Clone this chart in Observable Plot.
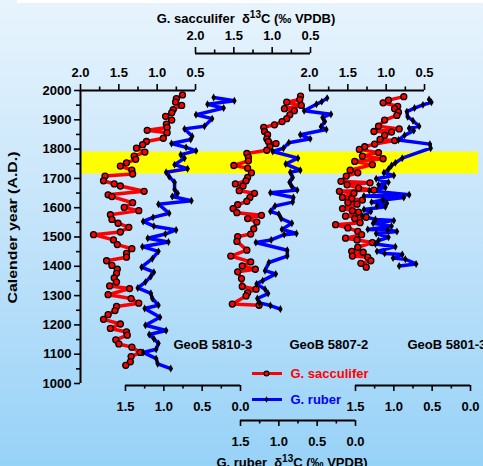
<!DOCTYPE html>
<html><head><meta charset="utf-8">
<script src="https://cdn.jsdelivr.net/npm/d3@7"></script>
<script src="https://cdn.jsdelivr.net/npm/@observablehq/plot@0.6"></script>
<style>
html,body{margin:0;padding:0;}
body{width:483px;height:466px;overflow:hidden;font-family:"Liberation Sans",Arial,sans-serif;}
#wrap{position:relative;width:483px;height:466px;background:linear-gradient(to bottom,#e8f4fd 0%,#c2e3fa 50%,#97d2f7 100%);overflow:hidden;}
#wrap::before{content:"";position:absolute;left:17px;top:0;width:466px;height:3px;background:#fff;}
#wrap svg{position:absolute;left:0;top:0;background:transparent;overflow:visible;}
.ttl{position:absolute;font-weight:bold;font-size:13px;line-height:13px;white-space:nowrap;transform:translate(-50%,-50%);color:#000;z-index:2;}
.ttl sup{font-size:10px;line-height:0;vertical-align:5px;}
</style></head><body>
<div id="wrap">
<div class="ttl" style="left:246px;top:18px">G. sacculifer&nbsp; δ<sup>13</sup>C (‰ VPDB)</div>
<div class="ttl" style="left:292px;top:462px">G. ruber&nbsp; δ<sup>13</sup>C (‰ VPDB)</div>
</div>
<script>
// ---- data: [calendar year A.D., δ13C ‰ VPDB] ----
const sac5810 = [[1985,0.67],[1972,0.75],[1960,0.76],[1949,0.68],[1935,0.79],[1924,0.81],[1912,0.89],[1899,0.81],[1885,0.88],[1874,0.87],[1864,1.13],[1856,0.87],[1837,0.92],[1826,1.14],[1815,1.19],[1803,1.27],[1790,1.16],[1776,1.30],[1765,1.28],[1753,1.40],[1742,1.48],[1728,1.33],[1715,1.32],[1708,1.68],[1692,1.70],[1681,1.56],[1674,1.48],[1656,1.17],[1644,1.64],[1638,1.59],[1617,1.32],[1601,1.43],[1590,1.24],[1576,1.61],[1560,1.59],[1547,1.51],[1533,1.37],[1517,1.48],[1508,1.83],[1490,1.57],[1474,1.52],[1460,1.33],[1444,1.40],[1431,1.40],[1419,1.66],[1403,1.59],[1390,1.52],[1376,1.53],[1360,1.56],[1346,1.53],[1333,1.62],[1324,1.36],[1303,1.64],[1290,1.34],[1274,1.24],[1263,1.53],[1249,1.55],[1235,1.64],[1219,1.70],[1203,1.48],[1188,1.61],[1176,1.40],[1165,1.39],[1149,1.54],[1135,1.50],[1124,1.33],[1106,1.22],[1092,1.34],[1074,1.35],[1062,1.41]];
const rub5810 = [[1976,0.35],[1965,0.08],[1953,0.43],[1940,0.22],[1917,0.58],[1904,0.37],[1878,0.47],[1869,0.73],[1844,0.63],[1833,0.65],[1819,0.90],[1806,0.71],[1794,0.58],[1781,0.78],[1769,0.73],[1747,0.86],[1733,0.69],[1721,0.97],[1706,0.93],[1687,0.86],[1662,0.86],[1649,0.82],[1638,0.89],[1624,0.64],[1612,1.07],[1581,0.93],[1567,1.14],[1553,1.27],[1537,1.13],[1524,0.84],[1510,0.98],[1496,1.21],[1483,0.94],[1467,1.28],[1451,1.07],[1426,1.15],[1397,1.29],[1380,1.13],[1365,1.17],[1346,1.24],[1326,1.34],[1308,1.17],[1290,1.15],[1267,1.07],[1256,1.25],[1226,1.05],[1199,1.24],[1181,0.97],[1167,1.19],[1153,1.13],[1137,1.07],[1117,1.10],[1106,1.27],[1085,1.10],[1067,1.08],[1051,0.91]];
const sac5807 = [[1981,0.63],[1969,0.64],[1960,0.81],[1949,0.62],[1938,0.84],[1931,0.71],[1917,0.77],[1904,0.81],[1894,0.87],[1883,0.97],[1874,1.11],[1860,1.10],[1849,1.06],[1835,1.07],[1826,1.05],[1819,0.95],[1808,1.03],[1796,1.07],[1785,1.33],[1772,1.31],[1760,1.31],[1744,1.50],[1735,1.32],[1719,1.27],[1703,1.32],[1692,1.34],[1681,1.48],[1674,1.38],[1658,1.43],[1649,1.23],[1635,1.29],[1622,1.33],[1610,1.45],[1597,1.51],[1583,1.46],[1574,1.14],[1563,1.32],[1551,1.20],[1528,1.24],[1510,1.28],[1501,1.45],[1485,1.46],[1455,1.33],[1435,1.54],[1415,1.28],[1401,1.39],[1390,1.22],[1381,1.45],[1358,1.40],[1331,1.39],[1322,1.21],[1310,1.32],[1299,1.34],[1271,1.52],[1267,1.17]];
const rub5807 = [[1974,0.37],[1962,0.44],[1953,0.51],[1931,0.67],[1919,0.32],[1908,0.43],[1894,0.40],[1876,0.45],[1867,0.38],[1849,0.72],[1835,0.59],[1822,0.87],[1803,0.94],[1792,1.08],[1769,0.75],[1749,0.91],[1728,0.72],[1721,0.85],[1703,0.82],[1687,0.86],[1672,0.83],[1660,0.76],[1651,1.11],[1635,0.81],[1619,0.82],[1606,1.05],[1587,1.11],[1578,1.00],[1563,0.97],[1547,0.83],[1526,0.96],[1512,0.77],[1508,0.93],[1490,1.10],[1481,1.30],[1455,0.89],[1435,0.89],[1413,1.13],[1385,1.18],[1374,1.04],[1351,1.21],[1340,1.29],[1322,1.18],[1307,1.14],[1290,1.28],[1275,1.25],[1266,1.11],[1254,0.98]];
const sac5801 = [[1979,0.77],[1967,0.97],[1958,1.04],[1946,0.85],[1938,0.89],[1926,0.84],[1915,0.86],[1899,1.02],[1878,1.10],[1869,0.83],[1860,1.16],[1858,0.93],[1847,1.02],[1833,1.08],[1829,0.89],[1817,1.15],[1808,1.28],[1799,1.35],[1788,1.10],[1776,1.31],[1767,1.04],[1758,1.41],[1747,1.18],[1728,1.47],[1719,1.37],[1708,1.52],[1690,1.59],[1685,1.21],[1678,1.51],[1667,1.36],[1660,1.16],[1656,1.61],[1649,1.42],[1635,1.57],[1631,1.45],[1626,1.31],[1617,1.50],[1612,1.38],[1597,1.57],[1590,1.44],[1585,1.36],[1571,1.53],[1567,1.26],[1563,1.41],[1549,1.34],[1542,1.66],[1531,1.50],[1519,1.37],[1508,1.32],[1496,1.53],[1490,1.38],[1481,1.18],[1465,1.37],[1451,1.45],[1448,1.30],[1435,1.44],[1431,1.24],[1419,1.20],[1410,1.33],[1397,1.26]];
const rub5801 = [[1969,0.54],[1960,0.51],[1951,0.62],[1940,0.73],[1928,0.83],[1910,0.82],[1897,0.75],[1878,0.67],[1871,0.80],[1863,0.74],[1847,0.86],[1831,0.94],[1817,0.53],[1803,0.52],[1769,0.89],[1753,0.98],[1744,1.03],[1731,1.07],[1719,1.13],[1710,1.00],[1699,1.23],[1687,1.07],[1678,1.20],[1669,1.11],[1658,1.32],[1644,0.80],[1640,1.39],[1635,0.87],[1626,1.14],[1619,1.29],[1615,1.09],[1606,1.22],[1603,1.11],[1594,1.39],[1587,1.30],[1571,1.41],[1560,1.24],[1556,1.00],[1547,1.27],[1537,1.03],[1526,1.34],[1524,1.08],[1519,0.96],[1512,1.23],[1499,1.07],[1488,1.20],[1476,1.24],[1467,0.98],[1451,1.22],[1444,1.12],[1440,0.89],[1428,1.01],[1424,0.85],[1408,0.71],[1401,0.93]];

const coreNames = ["GeoB 5810-3", "GeoB 5807-2", "GeoB 5801-3"];
const seriesNames = ["G. sacculifer", "G. ruber"];
const yTitle = "Calender year (A.D.)";
const bandYears = [1715, 1790];
const yearTicks = [1000,1100,1200,1300,1400,1500,1600,1700,1800,1900,2000];
const yearMinor = [1050,1150,1250,1350,1450,1550,1650,1750,1850,1950];
const sacTicks = [2.0,1.5,1.0,0.5];
const sacMinor = [1.75,1.25,0.75];
const rubTicks = [1.5,1.0,0.5,0.0];
const rubMinor = [1.25,0.75,0.25];

// ---- layout ----
const W = 483, H = 466, X0 = 80, PX = 76.67, YT = 90, YB = 383;
const ux = px => (px - X0) / PX;                 // pixel column -> x scale unit
const yr = py => 2000 - (py - YT) * 1000 / (YB - YT); // pixel row -> year
const red = "#ff0000", blue = "#0000ff";
const font = {fontSize: 13, fontWeight: "bold", fill: "black"};

const panels = [
  {sac: sac5810, rub: rub5810, sacLeft: 80,  rubRight: 240, sacAxisY: 90, rubAxisY: 385, name: [173, 344]},
  {sac: sac5807, rub: rub5807, sacLeft: 195, rubRight: 355, sacAxisY: 53, rubAxisY: 420, name: [289, 344]},
  {sac: sac5801, rub: rub5801, sacLeft: 309, rubRight: 470, sacAxisY: 90, rubAxisY: 385, name: [407, 344]}
];

const marks = [];
marks.push(Plot.rect([bandYears], {x1: 0, x2: ux(478), y1: d => d[0], y2: d => d[1], fill: "#ffff00"}));

function xAxis(ticks, minor, toU, yLinePx, dir, labelDy) {
  const yl = yr(yLinePx);
  const us = ticks.map(toU);
  return [
    Plot.ruleY([yl], {x1: d3.min(us), x2: d3.max(us), stroke: "black", strokeWidth: 2}),
    Plot.ruleX(ticks, {x: toU, y1: yl, y2: yr(yLinePx + dir * 6), stroke: "black", strokeWidth: 1.6}),
    Plot.ruleX(minor, {x: toU, y1: yl, y2: yr(yLinePx + dir * 3.5), stroke: "black", strokeWidth: 1.6}),
    Plot.text(ticks, {x: toU, y: yl, dy: labelDy, text: d => d.toFixed(1), ...font})
  ];
}

panels.forEach(p => {
  const sx = v => ux(p.sacLeft) + (2.0 - v);
  const rx = v => ux(p.rubRight) - v;
  marks.push(...xAxis(sacTicks, sacMinor, sx, p.sacAxisY, -1, -18));
  marks.push(...xAxis(rubTicks, rubMinor, rx, p.rubAxisY, 1, 21));
  p.sx = sx; p.rx = rx;
});
panels.forEach(p => {
  marks.push(Plot.line(p.sac, {x: d => p.sx(d[1]), y: d => d[0], stroke: red, strokeWidth: 3.5, strokeLinejoin: "round"}));
});
panels.forEach(p => {
  marks.push(Plot.line(p.rub, {x: d => p.rx(d[1]), y: d => d[0], stroke: blue, strokeWidth: 3.5, strokeLinejoin: "round"}));
});
panels.forEach(p => {
  marks.push(Plot.dot(p.sac, {x: d => p.sx(d[1]), y: d => d[0], r: 3, fill: red, stroke: "black", strokeWidth: 1.3}));
  marks.push(Plot.dot(p.rub, {x: d => p.rx(d[1]), y: d => d[0], r: 2.4, symbol: "diamond", fill: "black"}));
});
panels.forEach((p, i) => {
  marks.push(Plot.text([coreNames[i]], {x: ux(p.name[0]), y: yr(p.name[1]), text: d => d, textAnchor: "start", ...font}));
});

// y axis
marks.push(Plot.ruleX([0], {y1: 1000, y2: 2000, stroke: "black", strokeWidth: 2}));
marks.push(Plot.ruleY(yearTicks, {x1: 0, x2: ux(X0 - 6), y: d => d, stroke: "black", strokeWidth: 1.6}));
marks.push(Plot.ruleY(yearMinor, {x1: 0, x2: ux(X0 - 4), y: d => d, stroke: "black", strokeWidth: 1.6}));
marks.push(Plot.text(yearTicks, {x: 0, y: d => d, dx: -9, textAnchor: "end", text: d => String(d), ...font}));
marks.push(Plot.text([yTitle], {x: ux(12), y: yr(227), text: d => d, rotate: -90, ...font}));

// legend
const legend = [
  {name: seriesNames[0], color: red, py: 373},
  {name: seriesNames[1], color: blue, py: 399}
];
marks.push(Plot.ruleY(legend, {y: d => yr(d.py), x1: ux(252), x2: ux(282), stroke: d => d.color, strokeWidth: 3}));
marks.push(Plot.dot(legend.slice(0,1), {x: ux(266), y: d => yr(d.py), r: 2.4, fill: red, stroke: "black", strokeWidth: 1.2}));
marks.push(Plot.dot(legend.slice(1), {x: ux(266), y: d => yr(d.py), r: 2, symbol: "diamond", fill: "black"}));
marks.push(Plot.text(legend, {x: ux(290), y: d => yr(d.py), text: d => d.name, textAnchor: "start", fill: d => d.color, fontSize: 13, fontWeight: "bold"}));

const chart = Plot.plot({
  width: W, height: H,
  marginLeft: X0, marginRight: 0, marginTop: YT, marginBottom: H - YB,
  x: {domain: [0, ux(W)], axis: null},
  y: {domain: [1000, 2000], axis: null},
  style: {background: "transparent", fontFamily: "'Liberation Sans', Arial, sans-serif", overflow: "visible"},
  marks
});
// stretch the y title to the reference's length
d3.select(chart).selectAll("text").filter(function() { return this.textContent === yTitle; })
  .attr("textLength", 152).attr("lengthAdjust", "spacingAndGlyphs");
document.getElementById("wrap").appendChild(chart);
</script>
</body></html>
